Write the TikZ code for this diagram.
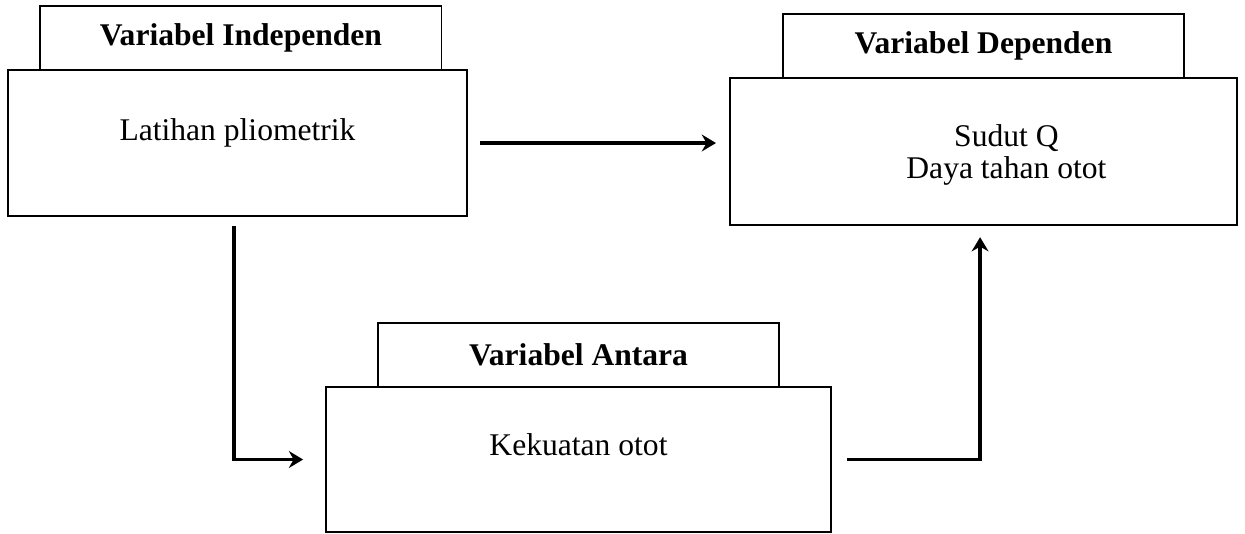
\documentclass[tikz,border=0pt]{standalone}
\usepackage{fontspec}
\setmainfont{Liberation Serif}
\usetikzlibrary{positioning, arrows.meta}

\begin{document}
\fontsize{12pt}{12.2pt}\selectfont
\begin{tikzpicture}[x=0.38pt, y=-0.38pt,
        body/.style={draw, rectangle, line width=0.65pt, outer sep=0pt, inner sep=0pt, minimum height=55.5pt},
        head/.style={draw, rectangle, line width=0.65pt, outer sep=0pt, minimum width=152.5pt, minimum height=24.2pt, font=\bfseries},
        link/.style={-{Stealth[length=5.4pt, width=6.4pt, inset=1.8pt]}, line width=1.5pt}]
        \useasboundingbox (0,0) rectangle (1245,533);

        % Nodes
        \node[body, minimum width=174.4pt] (Indep) at (237.5,143) {};
        \node[head, above=0pt of Indep, xshift=1.3pt] (IndepHead) {Variabel Independen};
        \node[yshift=4pt] (IndepText) at (Indep.center) {Latihan pliometrik};

        \node[body, minimum width=192.7pt, minimum height=55.9pt] (Dep) at (983.5,151.5) {};
        \node[head, above=0pt of Dep] (DepHead) {Variabel Dependen};
        \node[align=center, xshift=8.7pt, yshift=-1.2pt] (DepText) at (Dep.center) {Sudut Q\\Daya tahan otot};

        \node[body, minimum width=191.9pt, minimum height=55.1pt] (Antara) at (578.5,459.5) {};
        \node[head, above=0pt of Antara] (AntaraHead) {Variabel Antara};
        \node[yshift=5.5pt] (AntaraText) at (Antara.center) {Kekuatan otot};

        % Arrows
        \draw[link, shorten <=4.9pt, shorten >=5.3pt] (Indep.east) -- (Indep.east -| Dep.west);
        \draw[link, shorten <=3.8pt, shorten >=8.7pt] ([xshift=-1.3pt]Indep.south) |- (Antara.west);
        \draw[link, shorten <=6.1pt, shorten >=4.6pt] (Antara.east) -| ([xshift=-1.3pt]Dep.south);
    \end{tikzpicture}
\end{document}
